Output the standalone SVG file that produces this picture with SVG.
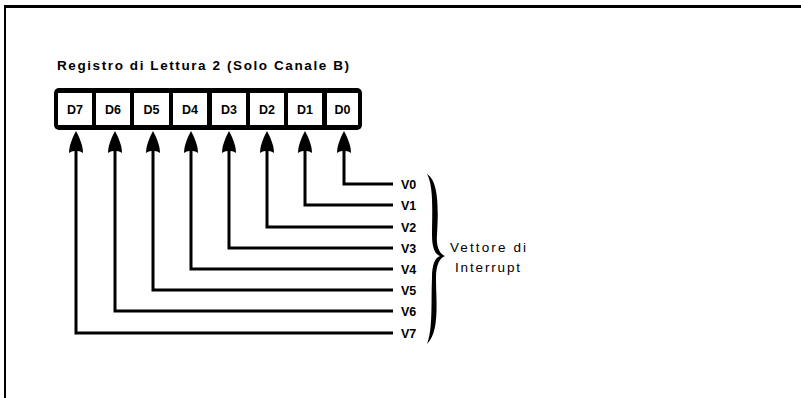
<svg xmlns="http://www.w3.org/2000/svg" width="801" height="398" viewBox="0 0 801 398">
<style>
.t{font-family:"Liberation Sans",Arial,sans-serif;font-weight:bold;fill:#000}
.c{font-size:12.5px;text-anchor:middle}
.v{font-size:12.5px}
.w{font-family:"Liberation Sans",Arial,sans-serif;font-size:13.5px;fill:#000}
.ln{fill:none;stroke:#000;stroke-width:3;stroke-linejoin:miter}
.cell{fill:#fff}
</style>
<defs>
<path id="ah" d="M0,0 C-2,4 -7,13 -7,22 C-4,20 -2,20 0,20 C2,20 4,20 7,22 C7,13 2,4 0,0 Z" fill="#000"/>
</defs>
<rect width="801" height="398" fill="#fff"/>
<g id="frame">
<line x1="4" y1="6.5" x2="801" y2="6.5" stroke="#000" stroke-width="3"/>
<line x1="5" y1="6" x2="5" y2="398" stroke="#000" stroke-width="2"/>
</g>
<g id="title"><text class="t" x="57" y="70" font-size="13.5" textLength="292" lengthAdjust="spacing">Registro di Lettura 2 (Solo Canale B)</text></g>
<g id="register">
<rect x="54" y="88" width="308" height="42" rx="5" fill="#000"/>
<rect class="cell" x="58" y="93" width="34" height="32"/>
<rect class="cell" x="96" y="93" width="34" height="32"/>
<rect class="cell" x="134" y="93" width="35" height="32"/>
<rect class="cell" x="173" y="93" width="34" height="32"/>
<rect class="cell" x="212" y="93" width="34" height="32"/>
<rect class="cell" x="250" y="93" width="34" height="32"/>
<rect class="cell" x="288" y="93" width="34" height="32"/>
<rect class="cell" x="327" y="93" width="31" height="32"/>
<text class="t c" x="75" y="114">D7</text>
<text class="t c" x="113" y="114">D6</text>
<text class="t c" x="151.5" y="114">D5</text>
<text class="t c" x="190" y="114">D4</text>
<text class="t c" x="229" y="114">D3</text>
<text class="t c" x="267" y="114">D2</text>
<text class="t c" x="305" y="114">D1</text>
<text class="t c" x="342.5" y="114">D0</text>
</g>
<g id="connectors">
<path class="ln" d="M76,150 V333 H393"/>
<path class="ln" d="M115,150 V311 H393"/>
<path class="ln" d="M153,150 V290 H393"/>
<path class="ln" d="M191,150 V269 H393"/>
<path class="ln" d="M229,150 V248 H393"/>
<path class="ln" d="M267,150 V227 H393"/>
<path class="ln" d="M305,150 V205 H393"/>
<path class="ln" d="M344,150 V184 H393"/>
<use href="#ah" x="76" y="131"/>
<use href="#ah" x="115" y="131"/>
<use href="#ah" x="153" y="131"/>
<use href="#ah" x="191" y="131"/>
<use href="#ah" x="229" y="131"/>
<use href="#ah" x="267" y="131"/>
<use href="#ah" x="305" y="131"/>
<use href="#ah" x="344" y="131"/>
</g>
<g id="labels">
<text class="t v" x="401" y="189">V0</text>
<text class="t v" x="401" y="210">V1</text>
<text class="t v" x="401" y="232">V2</text>
<text class="t v" x="401" y="253">V3</text>
<text class="t v" x="401" y="274">V4</text>
<text class="t v" x="401" y="295">V5</text>
<text class="t v" x="401" y="316">V6</text>
<text class="t v" x="401" y="338">V7</text>
</g>
<g id="brace">
<path d="M427,174 C440,182 438,215 437,235 C436,248 440,254 445,256 C440,258 436,264 436,278 C436,300 440,332 427,344 C433,330 431,300 432,278 C432,264 435,258 440,256 C435,254 432,248 432,235 C432,215 434,186 427,174 Z" fill="#000"/>
<text class="w" x="450" y="252" textLength="76" lengthAdjust="spacing">Vettore di</text>
<text class="w" x="455" y="272" textLength="65" lengthAdjust="spacing">Interrupt</text>
</g>
</svg>
